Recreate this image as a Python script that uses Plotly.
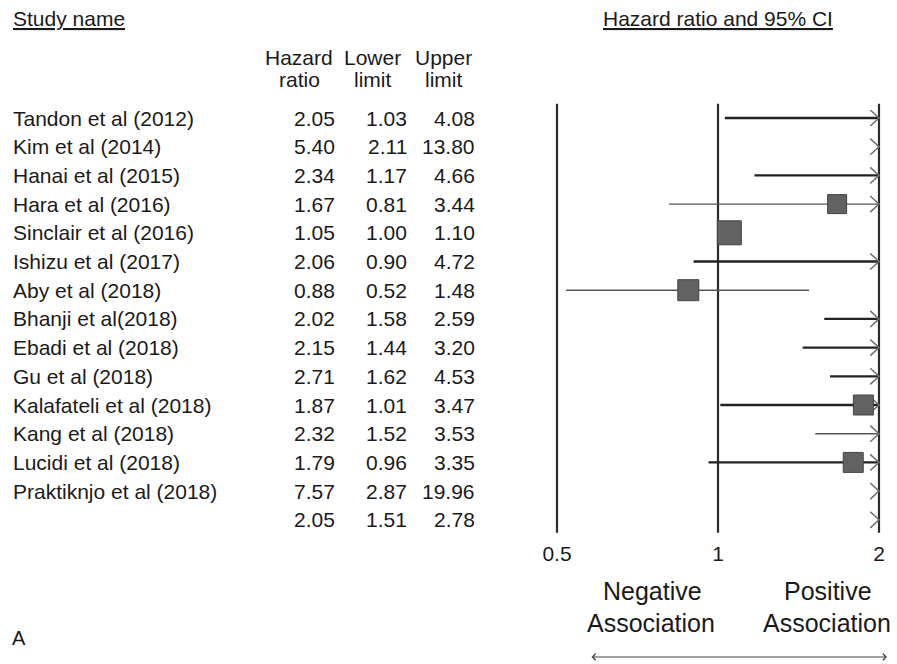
import plotly.graph_objects as go
import math

# ---------------- data ----------------
studies = ["Tandon et al (2012)", "Kim et al (2014)", "Hanai et al (2015)", "Hara et al (2016)",
           "Sinclair et al (2016)", "Ishizu et al (2017)", "Aby et al (2018)", "Bhanji et al(2018)",
           "Ebadi et al (2018)", "Gu et al (2018)", "Kalafateli et al (2018)", "Kang et al (2018)",
           "Lucidi et al (2018)", "Praktiknjo et al (2018)", ""]
hazard_ratio = [2.05, 5.40, 2.34, 1.67, 1.05, 2.06, 0.88, 2.02, 2.15, 2.71, 1.87, 2.32, 1.79, 7.57, 2.05]
lower_limit = [1.03, 2.11, 1.17, 0.81, 1.00, 0.90, 0.52, 1.58, 1.44, 1.62, 1.01, 1.52, 0.96, 2.87, 1.51]
upper_limit = [4.08, 13.80, 4.66, 3.44, 1.10, 4.72, 1.48, 2.59, 3.20, 4.53, 3.47, 3.53, 3.35, 19.96, 2.78]
x_ticks = [0.5, 1, 2]
x_tick_labels = ["0.5", "1", "2"]

# ---------------- style ----------------
W, H = 897, 664
FONT = "Liberation Sans, Arial, sans-serif"
TXT = "#1a1a1a"
XMIN, XMAX = 0.5, 2.0
box_px = {"Hara et al (2016)": 19, "Sinclair et al (2016)": 24, "Aby et al (2018)": 21,
          "Kalafateli et al (2018)": 20, "Lucidi et al (2018)": 20}
thin_rows = {"Hara et al (2016)", "Aby et al (2018)", "Kang et al (2018)"}

def X(px):
    return px / W

def Y(py):
    return 1 - py / H

# axis placement: 0.5 at 557px, 2 at 879px, with 8px of padding each side
PX_LO, PX_HI, PAD = 557, 879, 8
lg_lo, lg_hi = math.log10(XMIN), math.log10(XMAX)
per_px = (lg_hi - lg_lo) / (PX_HI - PX_LO)
x_range = [lg_lo - PAD * per_px, lg_hi + PAD * per_px]
x_domain = [X(PX_LO - PAD), X(PX_HI + PAD)]

n = len(studies)
row0_px, row_step = 118, 28.7
y_top = -row0_px / row_step
y_bot = (H - row0_px) / row_step

fig = go.Figure()

# reference vertical lines
vx, vy = [], []
for t in x_ticks:
    vx += [t, t, None]
    vy += [-0.5, n - 1 + 0.45, None]
fig.add_trace(go.Scatter(x=vx, y=vy, mode="lines", line=dict(color="#2b2b2b", width=2.2),
                         hoverinfo="skip", showlegend=False))

# CI lines
thick_x, thick_y, thin_x, thin_y = [], [], [], []
chev_x, chev_y = [], []
box_x, box_y, box_s = [], [], []
for i, name in enumerate(studies):
    lo, up, hr = lower_limit[i], upper_limit[i], hazard_ratio[i]
    if i < n - 1 and lo < XMAX:
        a, b = max(lo, XMIN), min(up, XMAX)
        if name in thin_rows:
            thin_x += [a, b, None]; thin_y += [i, i, None]
        else:
            thick_x += [a, b, None]; thick_y += [i, i, None]
    if up > XMAX:
        chev_x += [XMAX * 0.963, XMAX, XMAX * 0.963, None]
        chev_y += [i - 0.28, i, i + 0.28, None]
    if XMIN <= hr <= XMAX and name in box_px:
        box_x.append(hr); box_y.append(i); box_s.append(box_px[name])

fig.add_trace(go.Scatter(x=thick_x, y=thick_y, mode="lines", line=dict(color="#222222", width=2.3),
                         hoverinfo="skip", showlegend=False))
fig.add_trace(go.Scatter(x=thin_x, y=thin_y, mode="lines", line=dict(color="#555555", width=1.4),
                         hoverinfo="skip", showlegend=False))
fig.add_trace(go.Scatter(x=chev_x, y=chev_y, mode="lines", line=dict(color="#6e6e6e", width=1.5),
                         hoverinfo="skip", showlegend=False))
fig.add_trace(go.Scatter(x=box_x, y=box_y, mode="markers", cliponaxis=False,
                         marker=dict(symbol="square", size=box_s, color="#626262", opacity=1,
                                     line=dict(color="#444444", width=1)),
                         hoverinfo="skip", showlegend=False))

ann = []
def text(x, y, s, size=21, xanchor="left", yref="y", color=TXT):
    ann.append(dict(x=x, y=y, xref="paper", yref=yref, text=s, showarrow=False,
                    xanchor=xanchor, yanchor="middle", font=dict(family=FONT, size=size, color=color)))

# table
for i, name in enumerate(studies):
    if name:
        text(X(11), i, name)
    text(X(337), i, f"{hazard_ratio[i]:.2f}", xanchor="right")
    text(X(409), i, f"{lower_limit[i]:.2f}", xanchor="right")
    text(X(477), i, f"{upper_limit[i]:.2f}", xanchor="right")

# headers
text(X(11), Y(18), "<u>Study name</u>", yref="paper")
text(X(718), Y(18), "<u>Hazard ratio and 95% CI</u>", xanchor="center", yref="paper")
text(X(299), Y(58), "Hazard", xanchor="center", yref="paper")
text(X(299), Y(80), "ratio", xanchor="center", yref="paper")
text(X(372), Y(58), "Lower", xanchor="center", yref="paper")
text(X(372), Y(80), "limit", xanchor="center", yref="paper")
text(X(443), Y(58), "Upper", xanchor="center", yref="paper")
text(X(443), Y(80), "limit", xanchor="center", yref="paper")

# association labels
text(X(652), Y(591), "Negative", size=25, xanchor="center", yref="paper")
text(X(651), Y(623), "Association", size=25, xanchor="center", yref="paper")
text(X(828), Y(591), "Positive", size=25, xanchor="center", yref="paper")
text(X(827), Y(623), "Association", size=25, xanchor="center", yref="paper")
text(X(10), Y(638), "A", size=20, yref="paper")

# double-headed arrow
ann.append(dict(x=X(887), y=Y(657), xref="paper", yref="paper", ax=-(887 - 590), ay=0,
                axref="pixel", ayref="pixel", text="", showarrow=True, arrowside="end+start",
                arrowhead=4, arrowsize=1.1, arrowwidth=1.1, arrowcolor="#444444"))

fig.update_layout(
    template="none",
    width=W, height=H, margin=dict(l=0, r=0, t=0, b=0, pad=0, autoexpand=False),
    paper_bgcolor="white", plot_bgcolor="white",
    annotations=ann,
    xaxis=dict(type="log", domain=x_domain, range=x_range,
               tickvals=x_ticks, ticktext=x_tick_labels, showgrid=False, zeroline=False,
               showline=False, ticks="", anchor="free", position=Y(539), automargin=False,
               tickfont=dict(family=FONT, size=21, color=TXT)),
    yaxis=dict(range=[y_bot, y_top], domain=[0, 1], visible=False, automargin=False),
)

fig.write_html("out.html")
